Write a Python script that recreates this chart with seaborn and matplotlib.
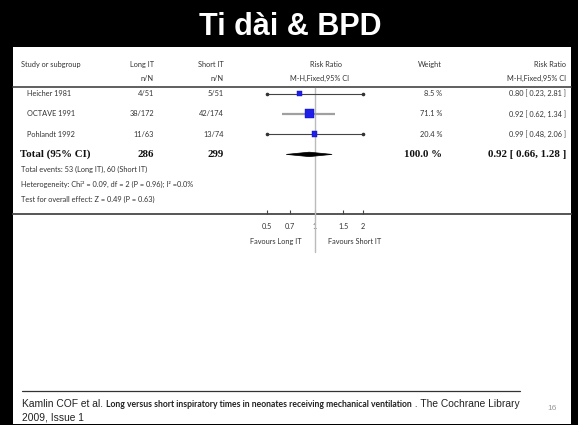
import numpy as np
import pandas as pd
import matplotlib
matplotlib.use("Agg")
import matplotlib.pyplot as plt
from matplotlib.patches import Rectangle, Polygon
from matplotlib.ticker import NullLocator, FixedLocator, FixedFormatter
import seaborn as sns

# ---- data -------------------------------------------------------------
studies = ["Heicher 1981", "OCTAVE 1991", "Pohlandt 1992"]
long_events = [4, 38, 11]
long_total = [51, 172, 63]
short_events = [5, 42, 13]
short_total = [51, 174, 74]
weights = [8.5, 71.1, 20.4]
rr = [0.80, 0.92, 0.99]
rr_lo = [0.23, 0.62, 0.48]
rr_hi = [2.81, 1.34, 2.06]

total_long_n = 286
total_short_n = 299
total_weight = 100.0
total_rr = 0.92
total_lo = 0.66
total_hi = 1.28
total_events_long = 53
total_events_short = 60

x_ticks = [0.5, 0.7, 1, 1.5, 2]
x_tick_labels = ["0.5", "0.7", "1", "1.5", "2"]

title = "Ti dài & BPD"

# ---- figure -----------------------------------------------------------
sns.set_theme(style="white")
plt.rcParams["font.family"] = ["Lato", "DejaVu Sans"]

W, H = 578, 425
fig = plt.figure(figsize=(W / 100, H / 100), dpi=100, facecolor="black")

# overlay axes in pixel units (origin top-left)
ov = fig.add_axes([0, 0, 1, 1])
ov.set_xlim(0, W)
ov.set_ylim(H, 0)
ov.axis("off")
ov.patch.set_alpha(0)

ov.add_patch(Rectangle((12.5, 47), 558, 377, facecolor="white", edgecolor="none"))
ov.text(290, 35, title, color="white", fontsize=22, fontweight="bold",
        family="Liberation Sans", ha="center", va="baseline")

TXT = "#333333"
SMALL = 5.3

def row_y(i):
    return 93.5 + 20.3 * i

# header
ov.text(21, 64, "Study or subgroup", fontsize=SMALL, color=TXT, va="center")
ov.text(154, 64, "Long IT", fontsize=SMALL, color=TXT, va="center", ha="right")
ov.text(154, 78, "n/N", fontsize=SMALL, color=TXT, va="center", ha="right")
ov.text(224, 64, "Short IT", fontsize=SMALL, color=TXT, va="center", ha="right")
ov.text(224, 78, "n/N", fontsize=SMALL, color=TXT, va="center", ha="right")
ov.text(326, 64, "Risk Ratio", fontsize=SMALL, color=TXT, va="center", ha="center")
ov.text(320, 78, "M-H,Fixed,95% CI", fontsize=SMALL, color=TXT, va="center", ha="center")
ov.text(442, 64, "Weight", fontsize=SMALL, color=TXT, va="center", ha="right")
ov.text(566, 64, "Risk Ratio", fontsize=SMALL, color=TXT, va="center", ha="right")
ov.text(566, 78, "M-H,Fixed,95% CI", fontsize=SMALL, color=TXT, va="center", ha="right")
ov.plot([12.5, 570.5], [87, 87], color="#444444", lw=1.2)

# study rows
for i, s in enumerate(studies):
    y = row_y(i)
    ov.text(27, y, s, fontsize=SMALL, color=TXT, va="center")
    ov.text(154, y, f"{long_events[i]}/{long_total[i]}", fontsize=SMALL, color=TXT, va="center", ha="right")
    ov.text(224, y, f"{short_events[i]}/{short_total[i]}", fontsize=SMALL, color=TXT, va="center", ha="right")
    ov.text(442, y, f"{weights[i]:.1f} %", fontsize=SMALL, color=TXT, va="center", ha="right")
    ov.text(566, y, f"{rr[i]:.2f} [ {rr_lo[i]:.2f}, {rr_hi[i]:.2f} ]", fontsize=SMALL, color=TXT, va="center", ha="right")

# total row
yt = row_y(3)
serif = dict(family="Liberation Serif", fontweight="bold", fontsize=7.8, color="#111111", va="center")
ov.text(20, yt, "Total (95% CI)", **serif)
ov.text(154, yt, f"{total_long_n}", ha="right", **serif)
ov.text(224, yt, f"{total_short_n}", ha="right", **serif)
ov.text(442, yt, f"{total_weight:.1f} %", ha="right", **serif)
ov.text(566, yt, f"{total_rr:.2f} [ {total_lo:.2f}, {total_hi:.2f} ]", ha="right", **serif)

ov.text(21, 169, f"Total events: {total_events_long} (Long IT), {total_events_short} (Short IT)",
        fontsize=SMALL, color=TXT, va="center")
ov.text(21, 184, "Heterogeneity: Chi² = 0.09, df = 2 (P = 0.96); I² =0.0%",
        fontsize=SMALL, color=TXT, va="center")
ov.text(21, 199, "Test for overall effect: Z = 0.49 (P = 0.63)",
        fontsize=SMALL, color=TXT, va="center")

# axis baseline across the panel
ov.plot([12.5, 570.5], [214, 214], color="#555555", lw=1.4)
ov.text(302, 241, "Favours Long IT", fontsize=SMALL, color=TXT, va="center", ha="right")
ov.text(328, 241, "Favours Short IT", fontsize=SMALL, color=TXT, va="center", ha="left")

# ---- forest axes ------------------------------------------------------
x0, x1 = 267, 363
ytop, ybot = 88, 214
fa = fig.add_axes([x0 / W, 1 - ybot / H, (x1 - x0) / W, (ybot - ytop) / H])
fa.set_xscale("log")
fa.set_xlim(0.5, 2)
fa.set_ylim((ybot - 93.5) / 20.3, (ytop - 93.5) / 20.3)
fa.patch.set_alpha(0)
for sp in fa.spines.values():
    sp.set_visible(False)
fa.xaxis.set_major_locator(FixedLocator(x_ticks))
fa.xaxis.set_major_formatter(FixedFormatter(x_tick_labels))
fa.xaxis.set_minor_locator(NullLocator())
fa.set_yticks([])
fa.tick_params(axis="x", bottom=True, direction="in", length=3, width=0.8,
               color="#444444", pad=6.5, labelsize=SMALL, labelcolor=TXT)

# line of no effect
fa.axvline(1, ymin=-(252 - ybot) / (ybot - ytop), ymax=1, color="#bbbbbb", lw=1, clip_on=False, zorder=1)

df = pd.DataFrame({"study": studies, "rr": rr, "lo": rr_lo, "hi": rr_hi,
                   "weight": weights, "row": np.arange(len(studies))})

for _, r in df.iterrows():
    big = r["weight"] > 50
    fa.hlines(r["row"], r["lo"], r["hi"], color="#a0a0a0" if big else "#444444",
              lw=1.6 if big else 0.8, zorder=2)
    lo_c, hi_c = max(r["lo"], 0.5), min(r["hi"], 2)
    ends = [v for v, clipped in ((lo_c, r["lo"] < 0.5), (hi_c, r["hi"] > 2)) if clipped]
    if ends:
        fa.plot(ends, [r["row"]] * len(ends), "o", ms=1.6, color="#333333", zorder=3, clip_on=False)

sns.scatterplot(data=df, x="rr", y="row", size="weight", sizes=(9, 40), marker="s",
                color="#1f1fe8", edgecolor="#1010c0", linewidth=0.3, legend=False, ax=fa, zorder=4)
fa.set_xlabel("")
fa.set_ylabel("")

dh = 0.11
fa.add_patch(Polygon([(total_lo, 3), (total_rr, 3 - dh), (total_hi, 3), (total_rr, 3 + dh)],
                     closed=True, facecolor="black", edgecolor="black", lw=0.5, zorder=4))

# ---- citation ---------------------------------------------------------
ov.plot([22, 520], [391, 391], color="#333333", lw=0.9)
renderer = fig.canvas.get_renderer()
pieces = [("Kamlin COF et al. ", dict(family="Liberation Sans", fontsize=7.4)),
          ("Long versus short inspiratory times in neonates receiving mechanical ventilation",
           dict(family="Lato", fontweight="bold", fontsize=6.25)),
          (" . The Cochrane Library", dict(family="Liberation Sans", fontsize=7.4))]
xc = 22
for txt, kw in pieces:
    t = ov.text(xc, 407, txt, color="#222222", va="baseline", ha="left", **kw)
    bb = t.get_window_extent(renderer=renderer)
    xc += bb.width * W / fig.bbox.width
ov.text(22, 420, "2009, Issue 1", family="Liberation Sans", fontsize=7.4, color="#222222", va="baseline")
ov.text(552, 410, "16", family="Liberation Sans", fontsize=6, color="#9a9a9a", va="baseline", ha="center")

fig.savefig("out.png", dpi=100, facecolor="black")
